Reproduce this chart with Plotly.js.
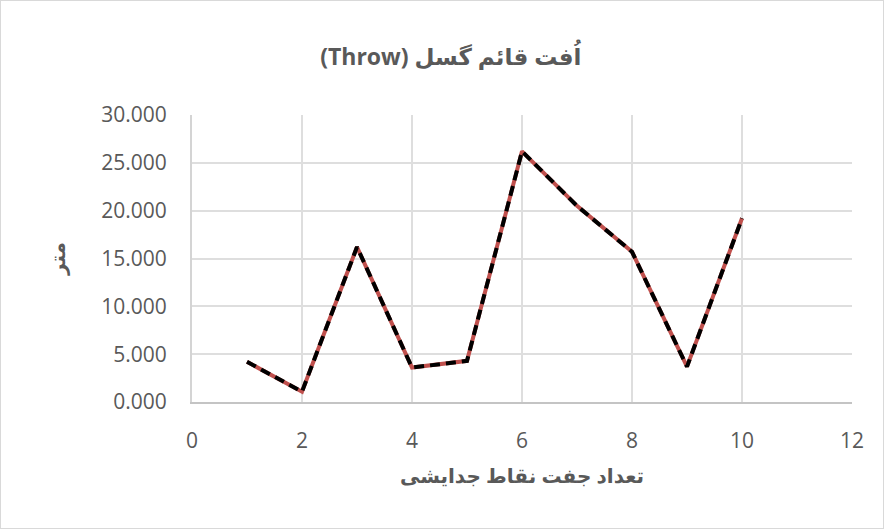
<!DOCTYPE html>
<html>
<head>
<meta charset="utf-8">
<script src="https://cdn.plot.ly/plotly-3.0.1.min.js"></script>
<style>
html,body{margin:0;padding:0;background:#fff;}
#chart{width:882px;height:527px;border:1px solid #d9d9d9;}
</style>
</head>
<body>
<div id="chart"></div>
<script>
const xValues = [1, 2, 3, 4, 5, 6, 7, 8, 9, 10];
const throwValues = [4.2, 1.08, 16.2, 3.6, 4.3, 26.2, 20.5, 15.7, 3.7, 19.2];
const chartTitle = "\u202Bاُفت قائم گسل (Throw)\u202C";
const xTitle = "\u202Bتعداد جفت نقاط جدایشی\u202C";
const yTitle = "\u202Bمتر\u202C";

const fontFam = "Open Sans, DejaVu Sans, sans-serif";
const textCol = "#595959";

const traces = [
  {x: xValues, y: throwValues, type: "scatter", mode: "lines",
   line: {color: "#C0504D", width: 4}, hoverinfo: "skip", showlegend: false},
  {x: xValues, y: throwValues, type: "scatter", mode: "lines",
   line: {color: "#000000", width: 4, dash: "10px,6px"}, showlegend: false}
];

const layout = {
  width: 882, height: 527,
  margin: {l: 191, r: 31, t: 114, b: 126},
  paper_bgcolor: "#ffffff", plot_bgcolor: "#ffffff",
  font: {family: fontFam, color: textCol, size: 20},
  title: {text: chartTitle, font: {family: fontFam, size: 23, color: textCol, weight: "bold"},
          x: 0.51, xanchor: "center", xref: "container", y: 0.893, yanchor: "middle", yref: "container"},
  xaxis: {
    range: [0, 12], tick0: 0, dtick: 2, tickmode: "linear",
    showgrid: true, gridcolor: "#dedede", gridwidth: 2,
    zeroline: false, showline: true, linecolor: "#c4c4c4", linewidth: 2,
    ticks: "outside", ticklen: 19, tickcolor: "rgba(0,0,0,0)",
    tickfont: {size: 21, color: textCol},
    title: {text: xTitle, font: {size: 20, color: textCol, weight: "bold"}, standoff: 16}
  },
  yaxis: {
    range: [0, 30], tick0: 0, dtick: 5, tickmode: "linear", tickformat: ".3f",
    showgrid: true, gridcolor: "#dedede", gridwidth: 2,
    zeroline: false, showline: true, linecolor: "#d4d4d4", linewidth: 2,
    ticks: "outside", ticklen: 19, tickcolor: "rgba(0,0,0,0)",
    tickfont: {size: 21, color: textCol},
    title: {text: yTitle, font: {size: 20, color: textCol, weight: "bold"}, standoff: 30}
  }
};

Plotly.newPlot("chart", traces, layout, {displayModeBar: false, staticPlot: true});
</script>
</body>
</html>
